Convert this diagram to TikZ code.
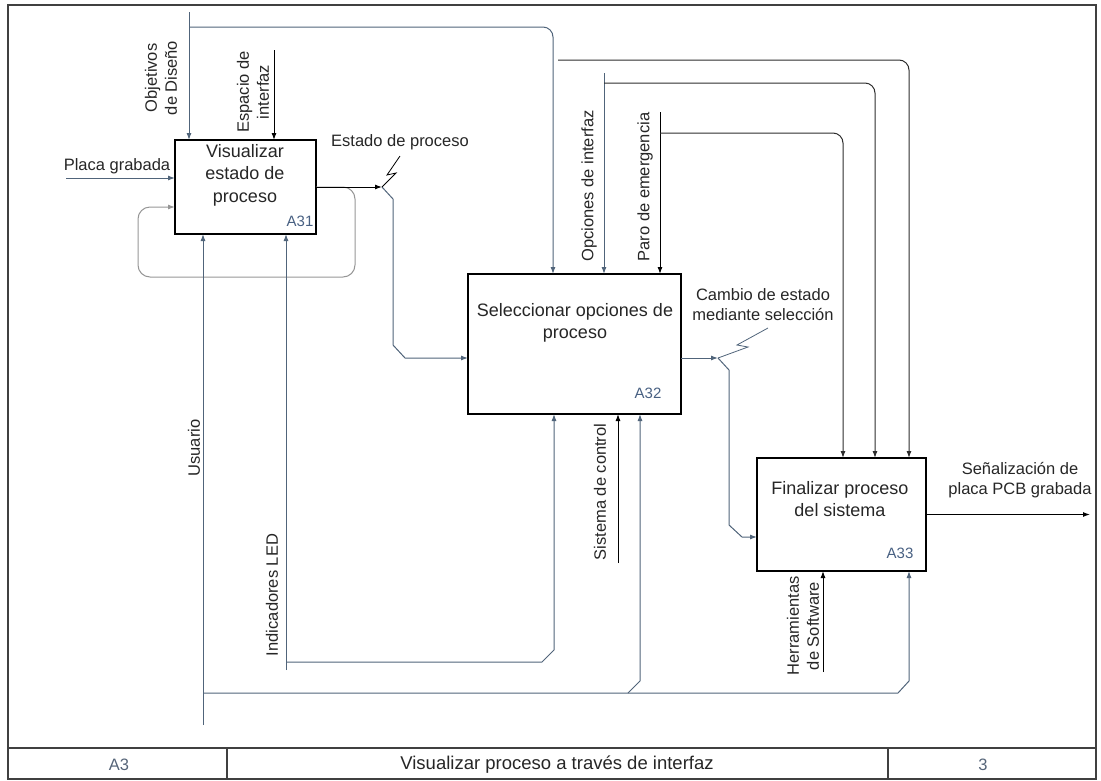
\documentclass[tikz,border=0pt]{standalone}
\usepackage{fontspec}
\setmainfont{Liberation Sans}
\usetikzlibrary{arrows.meta,calc}
\definecolor{lblue}{RGB}{80,100,122}
\definecolor{lgrey}{RGB}{150,150,150}
\definecolor{idblue}{RGB}{72,96,130}
\definecolor{dline}{RGB}{45,45,45}
\definecolor{ftxt}{RGB}{85,100,120}
\begin{document}
\begin{tikzpicture}[x=1pt,y=-1pt,
  box/.style={draw=black,line width=1.2pt,inner sep=0pt,outer sep=0pt},
  boxtxt/.style={font=\fontsize{18}{22.5}\selectfont,align=center,inner sep=0pt,text=black!85},
  idtxt/.style={font=\fontsize{15}{18}\selectfont,inner sep=0pt,text=idblue},
  lbl/.style={font=\fontsize{16.5}{20}\selectfont,align=center,inner sep=0pt,text=black!85},
  arr/.style={-{Latex[length=7pt,width=5pt]}},
  bl/.style={draw=lblue,line width=1pt},
  blk/.style={draw=black,line width=1pt},
  dk/.style={draw=dline,line width=1pt},
  gr/.style={draw=lgrey,line width=1pt},
  frame/.style={draw=black!75,line width=1.3pt}]
\useasboundingbox (0,0) rectangle (1101,780);

% frame and footer
\draw[frame] (8,5) rectangle (1096,779);
\draw[frame] (8,748) -- (1096,748);
\draw[frame] (227,748) -- (227,779);
\draw[frame] (888,748) -- (888,779);
\node[lbl,text=ftxt] (fa) at (119,765) {A3};
\node[lbl,font=\fontsize{18.5}{20}\selectfont] (fb) at (557,765) {Visualizar proceso a través de interfaz};
\node[lbl,text=ftxt] (fc) at (983,765) {3};

% boxes
\node[box,minimum width=141pt,minimum height=94pt] (a31) at (245.5,187) {};
\node[box,minimum width=213pt,minimum height=140pt] (a32) at (574.5,344) {};
\node[box,minimum width=169pt,minimum height=113pt] (a33) at (841.5,514.5) {};
\node[boxtxt] (t31) at (245,175) {Visualizar\\estado de\\proceso};
\node[boxtxt] (t32) at (575,323) {Seleccionar opciones de\\proceso};
\node[boxtxt] (t33) at (840,499) {Finalizar proceso\\del sistema};
\node[idtxt] (i31) at (300,221) {A31};
\node[idtxt] (i32) at (648,393) {A32};
\node[idtxt] (i33) at (900,553) {A33};

% Objetivos de Diseño
\coordinate (objS) at (189,12);
\coordinate (objB) at (189,27);
\coordinate (o1) at (553,27);
\draw[bl,arr] (objS) -- (objS |- a31.north);
\draw[bl,arr,rounded corners=10pt] (objB) -- (o1) -- (o1 |- a32.north);
\coordinate (obB2) at (558,60);
\coordinate (ob2) at (909,60);
\draw[dk,arr,rounded corners=10pt] (obB2) -- (ob2) -- (ob2 |- a33.north);
\node[lbl,rotate=90] (lobj) at (161,78) {Objetivos\\de Diseño};

% Espacio de interfaz
\coordinate (esS) at (274,50);
\draw[blk,arr] (esS) -- (esS |- a31.north);
\node[lbl,rotate=90] (lesp) at (253,92) {Espacio de\\interfaz};

% Placa grabada
\coordinate (plS) at (66,178);
\draw[bl,arr] (plS) -- (plS -| a31.west);
\node[lbl] (lpla) at (117,166) {Placa grabada};

% loop
\draw[gr,arr,rounded corners=12pt] (a31.east) -- (355,187) -- (355,277) -- (138,277) -- (138,207) -- ($(a31.west)+(0,20)$);

% Estado de proceso
\coordinate (ep) at (382,187);
\draw[blk,arr] (a31.east) -- (ep);
\draw[bl,arr] (ep) -- (393,199) -- (393,345) -- (405,358) -- ($(a32.west)+(0,14)$);
\draw[blk,line width=0.8pt] (400,156) -- (387,175) -- (396,173) -- (ep);
\node[lbl] (lest) at (400,142) {Estado de proceso};

% Opciones de interfaz
\coordinate (opS) at (604,73);
\coordinate (opB) at (604,83);
\coordinate (op1) at (875,83);
\draw[bl,arr] (opS) -- (opS |- a32.north);
\draw[dk,arr,rounded corners=10pt] (opB) -- (op1) -- (op1 |- a33.north);
\node[lbl,rotate=90] (lopc) at (589,186) {Opciones de interfaz};

% Paro de emergencia
\coordinate (paS) at (660,112);
\coordinate (paB) at (660,133);
\coordinate (pa1) at (843,133);
\draw[blk,arr] (paS) -- (paS |- a32.north);
\draw[dk,arr,rounded corners=10pt] (paB) -- (pa1) -- (pa1 |- a33.north);
\node[lbl,rotate=90] (lpar) at (645,187) {Paro de emergencia};

% Cambio de estado
\coordinate (cp) at (718,358);
\draw[bl,arr] ($(a32.east)+(0,14)$) -- (cp);
\draw[bl,arr] (cp) -- (729,370) -- (729,525) -- (742,537) -- ($(a33.west)+(0,22.5)$);
\draw[bl,line width=0.8pt] (768,328) -- (737,345) -- (748,347) -- (cp);
\node[lbl] (lcam) at (763,305) {Cambio de estado\\mediante selección};

% Indicadores LED
\coordinate (inS) at (286,670);
\coordinate (ib1) at (554,650);
\draw[bl,arr] (inS) -- (inS |- a31.south);
\draw[bl,arr] (286,662) -- (542,662) -- (ib1) -- (ib1 |- a32.south);
\node[lbl,rotate=90] (lind) at (272,595) {Indicadores LED};

% Usuario
\coordinate (usS) at (203,725);
\coordinate (ub1) at (909,681);
\coordinate (ub2) at (640,681);
\draw[bl,arr] (usS) -- (usS |- a31.south);
\draw[bl,arr] (203,693) -- (898,693) -- (ub1) -- (ub1 |- a33.south);
\draw[bl,arr] (628,693) -- (ub2) -- (ub2 |- a32.south);
\node[lbl,rotate=90] (lusu) at (194,448) {Usuario};

% Sistema de control
\coordinate (scS) at (618,563);
\draw[blk,arr] (scS) -- (scS |- a32.south);
\node[lbl,rotate=90] (lsis) at (600,492) {Sistema de control};

% Herramientas de Software
\coordinate (heS) at (823,672);
\draw[blk,arr] (heS) -- (heS |- a33.south);
\node[lbl,rotate=90] (lher) at (803,626) {Herramientas\\de Software};

% Output
\coordinate (outE) at (1090,515);
\draw[blk,arr] (a33.east) -- (outE |- a33.east);
\node[lbl] (lout) at (1020,480) {Señalización de\\placa PCB grabada};
\end{tikzpicture}
\end{document}
